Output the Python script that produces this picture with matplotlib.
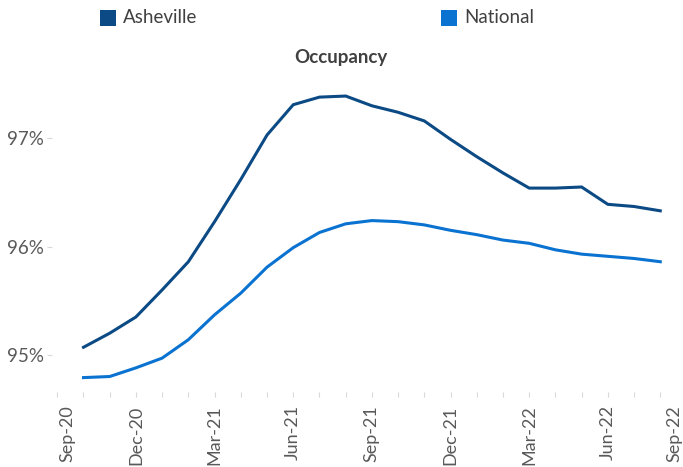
import matplotlib.pyplot as plt
import matplotlib.transforms as mtransforms
from matplotlib.patches import Rectangle
import numpy as np

plt.rcParams.update({
    'font.family': ['Lato', 'DejaVu Sans'],
    'font.size': 13,
})

# monthly axis, Sep-20 .. Sep-22
month_labels = ['Sep-20', 'Oct-20', 'Nov-20', 'Dec-20', 'Jan-21', 'Feb-21', 'Mar-21',
                'Apr-21', 'May-21', 'Jun-21', 'Jul-21', 'Aug-21', 'Sep-21', 'Oct-21',
                'Nov-21', 'Dec-21', 'Jan-22', 'Feb-22', 'Mar-22', 'Apr-22', 'May-22',
                'Jun-22', 'Jul-22', 'Aug-22', 'Sep-22']

# series run Oct-20 .. Aug-22 (percent)
asheville = [95.07, 95.20, 95.35, 95.60, 95.86, 96.23, 96.62, 97.03, 97.31, 97.38,
             97.39, 97.30, 97.24, 97.16, 96.99, 96.83, 96.68, 96.54, 96.54, 96.55,
             96.39, 96.37, 96.33]
national = [94.79, 94.80, 94.88, 94.97, 95.14, 95.37, 95.57, 95.81, 95.99, 96.13,
            96.21, 96.24, 96.23, 96.20, 96.15, 96.11, 96.06, 96.03, 95.97, 95.93,
            95.91, 95.89, 95.86]
y_ticks = [95, 96, 97]

col_ash = '#0B4A84'
col_nat = '#0A72D0'
txt_col = '#404040'
tick_col = '#595959'

W, H = 683, 467
fig = plt.figure(figsize=(W / 100, H / 100), dpi=100)

# plot area in pixels (right edge runs past the figure, as in the reference)
left, right, top, bottom = 52.3, 686.5, 73.3, 392.0
ax = fig.add_axes([left / W, 1 - bottom / H, (right - left) / W, (bottom - top) / H])

x = np.arange(1, 1 + len(asheville))
ax.plot(x, asheville, color=col_ash, lw=2.2, solid_joinstyle='miter', clip_on=False)
ax.plot(x, national, color=col_nat, lw=2.2, solid_joinstyle='miter', clip_on=False)

ax.set_xlim(-0.19, 24)
ax.set_ylim(94.657, 97.6)

for s in ax.spines.values():
    s.set_visible(False)

ax.set_yticks(y_ticks)
ax.set_yticklabels([f'{v}%' for v in y_ticks])
ax.tick_params(axis='y', length=4.6 * 0.72, width=0.8, color='#D9D9D9',
               labelcolor=tick_col, labelsize=13.5, pad=2.5)

ax.set_xticks(np.arange(0, 25, 3))
ax.set_xticklabels(month_labels[::3], rotation=90)
ax.set_xticks(np.arange(0, 25), minor=True)
ax.tick_params(axis='x', which='both', length=5 * 0.72, width=0.8, color='#D9D9D9',
               labelcolor=tick_col, labelsize=13, pad=6)

# edge labels pulled inside, like the original
xlabs = ax.get_xticklabels()
xlabs[0].set_transform(xlabs[0].get_transform() +
                       mtransforms.ScaledTranslation(0.10, 0, fig.dpi_scale_trans))
xlabs[-1].set_transform(xlabs[-1].get_transform() +
                        mtransforms.ScaledTranslation(-0.12, 0, fig.dpi_scale_trans))

fig.text(340.5 / W, 1 - 57.5 / H, 'Occupancy', ha='center', va='center',
         fontsize=13.5, fontweight='bold', color=txt_col)

# legend drawn by hand
for sx, lab, c in [(100, 'Asheville', col_ash), (441, 'National', col_nat)]:
    fig.add_artist(Rectangle((sx / W, 1 - 25.5 / H), 15.7 / W, 15.5 / H,
                             transform=fig.transFigure, color=c, lw=0))
    fig.text((sx + 23) / W, 1 - 17.5 / H, lab, ha='left', va='center',
             fontsize=13.5, color=txt_col)

fig.savefig('out.png', dpi=100)
